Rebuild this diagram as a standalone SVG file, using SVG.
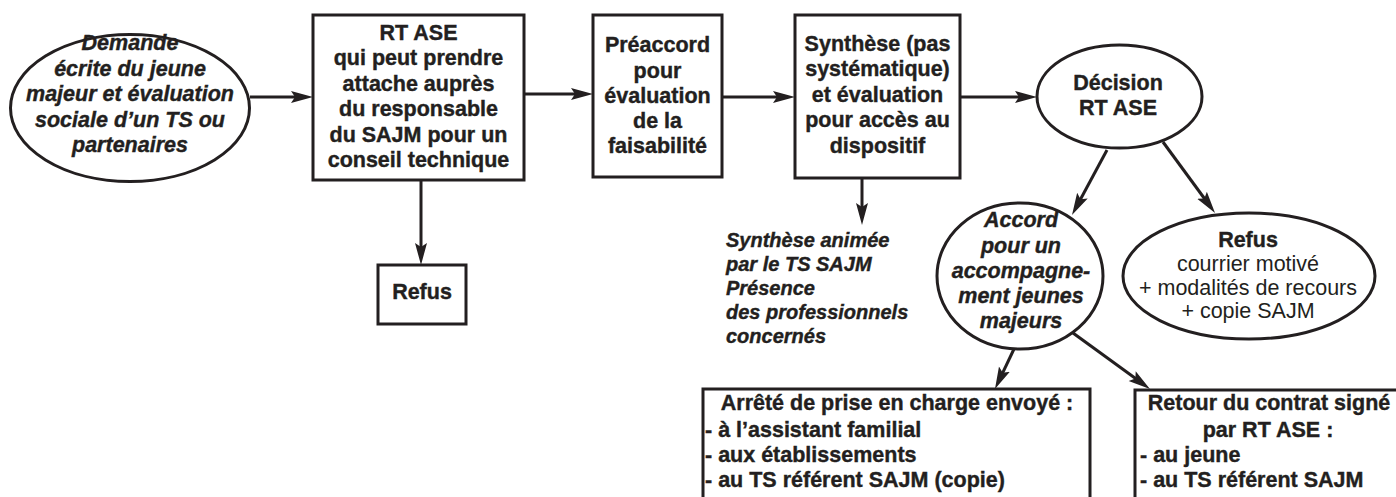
<svg xmlns="http://www.w3.org/2000/svg" width="1396" height="497" viewBox="0 0 1396 497">
<defs>
<style>
.s{fill:#fff;stroke:#231f20;stroke-width:3}
.c{stroke:#231f20;stroke-width:3;fill:none}
text{font-family:"Liberation Sans",Arial,sans-serif;font-size:21.5px;fill:#231f20}
.b{font-weight:bold;stroke:#231f20;stroke-width:0.4}
.i{font-style:italic;font-weight:bold;stroke:#231f20;stroke-width:0.4}
.n{font-weight:normal;stroke:none}
.m{text-anchor:middle}
.note{font-size:20px}
</style>
<marker id="ah" markerUnits="userSpaceOnUse" markerWidth="24" markerHeight="14" viewBox="0 -7 24 14" refX="14" refY="0" orient="auto">
<path d="M0,-6 L22,0 L0,6 L4,0 z" fill="#231f20"/>
</marker>
</defs>
<rect width="1396" height="497" fill="#fff"/>

<g id="connectors" class="c" marker-end="url(#ah)">
<line x1="250" y1="97" x2="305" y2="97"/>
<line x1="524" y1="94" x2="585" y2="94"/>
<line x1="722" y1="97" x2="787" y2="97"/>
<line x1="960" y1="97" x2="1029" y2="97"/>
<line x1="421" y1="180" x2="421" y2="257"/>
<line x1="862" y1="178" x2="862" y2="217"/>
<line x1="1107" y1="150" x2="1075.8" y2="208"/>
<line x1="1163" y1="142" x2="1210.3" y2="206.5"/>
<line x1="1014" y1="349" x2="998.4" y2="381.8"/>
<line x1="1073" y1="333" x2="1143.5" y2="384.3"/>
</g>

<g id="demande">
<ellipse class="s" cx="130" cy="108" rx="119.5" ry="73.5"/>
<text class="i m" x="130" y="50">Demande</text>
<text class="i m" x="130" y="75.5">écrite du jeune</text>
<text class="i m" x="130" y="101">majeur et évaluation</text>
<text class="i m" x="130" y="126.5">sociale d’un TS ou</text>
<text class="i m" x="130" y="152">partenaires</text>
</g>

<g id="rtase">
<rect class="s" x="313" y="15" width="211" height="165"/>
<text class="b m" x="418.5" y="39.5">RT ASE</text>
<text class="b m" x="418.5" y="65">qui peut prendre</text>
<text class="b m" x="418.5" y="90.5">attache auprès</text>
<text class="b m" x="418.5" y="116">du responsable</text>
<text class="b m" x="418.5" y="141.5">du SAJM pour un</text>
<text class="b m" x="418.5" y="167">conseil technique</text>
</g>

<g id="refus1">
<rect class="s" x="378" y="265" width="88" height="59"/>
<text class="b m" x="422" y="299">Refus</text>
</g>

<g id="preaccord">
<rect class="s" x="593" y="15" width="129" height="162"/>
<text class="b m" x="657.5" y="52">Préaccord</text>
<text class="b m" x="657.5" y="77.5">pour</text>
<text class="b m" x="657.5" y="102.5">évaluation</text>
<text class="b m" x="657.5" y="127.5">de la</text>
<text class="b m" x="657.5" y="153">faisabilité</text>
</g>

<g id="synthese">
<rect class="s" x="795" y="15" width="165" height="163"/>
<text class="b m" x="877.5" y="50.5">Synthèse (pas</text>
<text class="b m" x="877.5" y="76">systématique)</text>
<text class="b m" x="877.5" y="101.5">et évaluation</text>
<text class="b m" x="877.5" y="127">pour accès au</text>
<text class="b m" x="877.5" y="152.5">dispositif</text>
</g>

<g id="note">
<text class="i note" x="726" y="247">Synthèse animée</text>
<text class="i note" x="726" y="271">par le TS SAJM</text>
<text class="i note" x="726" y="295">Présence</text>
<text class="i note" x="726" y="319">des professionnels</text>
<text class="i note" x="726" y="343">concernés</text>
</g>

<g id="decision">
<ellipse class="s" cx="1119.5" cy="96.5" rx="82.5" ry="51.5"/>
<text class="b m" x="1118" y="90">Décision</text>
<text class="b m" x="1118" y="115">RT ASE</text>
</g>

<g id="accord">
<ellipse class="s" cx="1020" cy="276" rx="83" ry="73"/>
<text class="i m" x="1021" y="227">Accord</text>
<text class="i m" x="1021" y="253">pour un</text>
<text class="i m" x="1021" y="278">accompagne-</text>
<text class="i m" x="1021" y="303">ment jeunes</text>
<text class="i m" x="1021" y="328">majeurs</text>
</g>

<g id="refus2">
<ellipse class="s" cx="1249" cy="276" rx="126" ry="63"/>
<text class="b m" x="1248" y="247">Refus</text>
<text class="n m" x="1248" y="271">courrier motivé</text>
<text class="n m" x="1248" y="295">+ modalités de recours</text>
<text class="n m" x="1248" y="318">+ copie SAJM</text>
</g>

<g id="arrete">
<rect class="s" x="703" y="389" width="387" height="130"/>
<text class="b m" x="897" y="410">Arrêté de prise en charge envoyé :</text>
<text class="b" x="705" y="437">- à l’assistant familial</text>
<text class="b" x="705" y="462">- aux établissements</text>
<text class="b" x="705" y="487">- au TS référent SAJM (copie)</text>
</g>

<g id="retour">
<rect class="s" x="1135" y="390" width="280" height="130"/>
<text class="b m" x="1269" y="410">Retour du contrat signé</text>
<text class="b m" x="1268" y="437">par RT ASE :</text>
<text class="b" x="1140" y="462">- au jeune</text>
<text class="b" x="1140" y="487">- au TS référent SAJM</text>
</g>
</svg>
